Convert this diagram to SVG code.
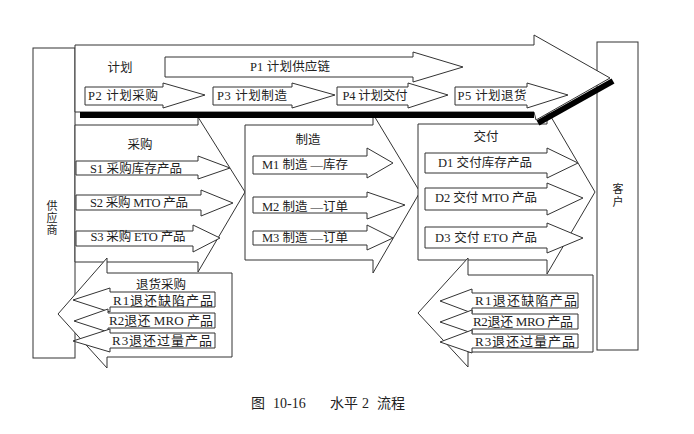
<svg xmlns="http://www.w3.org/2000/svg" width="694" height="434" viewBox="0 0 694 434">
<style>
.s{fill:#fff;stroke:#333;stroke-width:1}
.t{font-family:"Liberation Serif","Noto Sans CJK SC",serif;font-size:12.5px;fill:#222;text-anchor:middle;dominant-baseline:central}
.r{font-size:13px}
.v{font-size:11px}
.c{font-family:"Liberation Serif","Noto Sans CJK SC",serif;font-size:14px;fill:#222;dominant-baseline:central}
</style>
<rect width="694" height="434" fill="#fff"/>
<g id="supplier">
<rect class="s" x="33" y="48" width="42" height="310"/>
<text class="t v" x="52" y="206">供</text>
<text class="t v" x="52" y="218">应</text>
<text class="t v" x="52" y="230">商</text>
</g>
<g id="customer">
<rect class="s" x="597" y="42" width="41" height="308"/>
<text class="t v" x="618" y="189">客</text>
<text class="t v" x="618" y="202">户</text>
</g>
<g id="source">
<polygon class="s" points="75,125 198,125 198,117 245,192 198,272 198,262 75,262"/>
<text class="t" x="140" y="145">采购</text>
</g>
<g id="make">
<polygon class="s" points="245,125 373,125 373,114 420,192 373,273 373,260 245,260"/>
<text class="t" x="308" y="140">制造</text>
</g>
<g id="deliver">
<polygon class="s" points="418,124 547,124 547,110 595,192 547,274 547,260 418,260"/>
<text class="t" x="486" y="137">交付</text>
</g>
<g id="s1"><polygon class="s" points="76,161 198,161 198,156 230,168 198,179 198,175 76,175"/><text class="t" x="136" y="169" textLength="92">S1 采购库存产品</text></g>
<g id="s2"><polygon class="s" points="76,195 201,195 201,190 233,203 201,216 201,210 76,210"/><text class="t" x="139" y="203" textLength="98">S2 采购 MTO 产品</text></g>
<g id="s3"><polygon class="s" points="76,231 193,231 193,225 220,238 193,252 193,246 76,246"/><text class="t" x="138" y="237" textLength="95">S3 采购 ETO 产品</text></g>
<g id="m1"><polygon class="s" points="253,156 367,156 367,148 393,163 367,178 367,174 253,174"/><text class="t" x="305" y="165" textLength="86">M1 制造 —库存</text></g>
<g id="m2"><polygon class="s" points="253,197 367,197 367,192 405,205 367,219 367,213 253,213"/><text class="t" x="305" y="207" textLength="86">M2 制造 —订单</text></g>
<g id="m3"><polygon class="s" points="253,231 367,231 367,225 393,238 367,250 367,245 253,245"/><text class="t" x="305" y="238" textLength="86">M3 制造 —订单</text></g>
<g id="d1"><polygon class="s" points="425,153 547,153 547,148 578,163 547,178 547,173 425,173"/><text class="t" x="485" y="163" textLength="94">D1 交付库存产品</text></g>
<g id="d2"><polygon class="s" points="425,188 547,188 547,183 583,198 547,215 547,210 425,210"/><text class="t" x="486" y="198" textLength="102">D2 交付 MTO 产品</text></g>
<g id="d3"><polygon class="s" points="425,227 547,227 547,223 583,238 547,253 547,248 425,248"/><text class="t" x="486" y="238" textLength="102">D3 交付 ETO 产品</text></g>
<g id="return-source">
<polygon class="s" points="232,273 107,273 107,258 58,314 107,368 107,357 232,357"/>
<text class="t" x="161" y="285">退货采购</text>
</g>
<g id="lr1"><polygon class="s" points="215,292 110,292 110,288 73,300 110,312 110,307 215,307"/><text class="t r" x="163" y="300" textLength="100">R1退还缺陷产品</text></g>
<g id="lr2"><polygon class="s" points="215,313 108,313 108,309 74,321 108,332 108,328 215,328"/><text class="t r" x="161" y="320.5" textLength="104">R2退还 MRO 产品</text></g>
<g id="lr3"><polygon class="s" points="215,333 110,333 110,329 73,341 110,352 110,348 215,348"/><text class="t r" x="162" y="340.5" textLength="100">R3退还过量产品</text></g>
<g id="return-deliver">
<polygon class="s" points="593,275 468,275 468,258 418,313 468,367 468,352 593,352"/>
</g>
<g id="rr1"><polygon class="s" points="578,293 472,293 472,289 440,301 472,313 472,308 578,308"/><text class="t r" x="526" y="300.5" textLength="102">R1退还缺陷产品</text></g>
<g id="rr2"><polygon class="s" points="578,314 472,314 472,310 440,322 472,333 472,329 578,329"/><text class="t r" x="523" y="321.5" textLength="100">R2退还 MRO 产品</text></g>
<g id="rr3"><polygon class="s" points="578,334 472,334 472,330 440,342 472,353 472,348 578,348"/><text class="t r" x="525" y="341" textLength="100">R3退还过量产品</text></g>
<g id="plan">
<polygon class="s" points="75,45 534,45 534,35 610,78 536,120 534,112 75,112"/>
<rect x="80" y="112" width="454" height="6" fill="#000"/>
<line x1="538" y1="123" x2="613" y2="81" stroke="#000" stroke-width="6"/>
<text class="t" x="120" y="68">计划</text>
</g>
<g id="p1"><polygon class="s" points="165,57 413,57 413,52 463,67 413,82 413,77 165,77"/><text class="t" x="290" y="67" textLength="80">P1 计划供应链</text></g>
<g id="p2"><polygon class="s" points="85,87 163,87 163,83 205,95 163,108 163,105 85,105"/><text class="t" x="123" y="96" textLength="70">P2 计划采购</text></g>
<g id="p3"><polygon class="s" points="213,87 292,87 292,83 335,95 292,108 292,105 213,105"/><text class="t" x="252" y="96" textLength="70">P3 计划制造</text></g>
<g id="p4"><polygon class="s" points="337,87 408,87 408,83 448,95 408,108 408,105 337,105"/><text class="t" x="375" y="96" textLength="65">P4 计划交付</text></g>
<g id="p5"><polygon class="s" points="455,87 527,87 527,83 568,95 527,108 527,105 455,105"/><text class="t" x="492" y="96" textLength="69">P5 计划退货</text></g>
<g id="caption">
<text class="c" x="251" y="403">图</text>
<text class="c" x="273" y="403">10-16</text>
<text class="c" x="330" y="403">水平</text>
<text class="c" x="362" y="403">2</text>
<text class="c" x="377" y="403">流程</text>
</g>
<g id="connectors"></g>
</svg>
